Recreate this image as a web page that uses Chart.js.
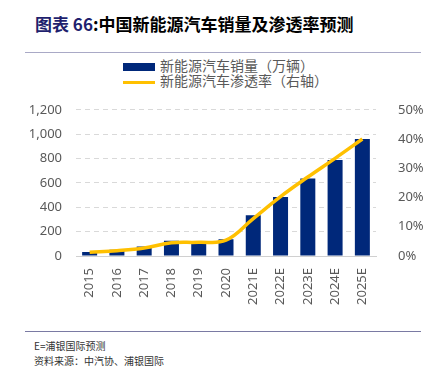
<!DOCTYPE html>
<html>
<head>
<meta charset="utf-8">
<script src="https://cdn.jsdelivr.net/npm/chart.js@4"></script>
<style>
  body { margin: 0; width: 433px; height: 366px; background: #fff; position: relative; overflow: hidden;
         font-family: "Noto Sans CJK SC", "Noto Sans", sans-serif; }
  #title { position: absolute; left: 35px; top: 11px; font-size: 17px; font-weight: bold; color: #000; white-space: nowrap; }
  #title .num { color: #1F1F6E; }
  .rule { position: absolute; left: 25px; width: 396px; height: 1px; }
  #legend { position: absolute; left: 123px; top: 58px; font-size: 14px; color: #595959; line-height: 15px; }
  #legend div { white-space: nowrap; }
  .sw { display: inline-block; width: 32px; vertical-align: middle; margin-right: 5px; }
  #wrap { position: absolute; left: 0; top: 88px; width: 433px; height: 218px; }
  .note { position: absolute; left: 34px; font-size: 10px; color: #333; white-space: nowrap; }
</style>
</head>
<body>
<div id="title"><span class="num">图表 66</span>:中国新能源汽车销量及渗透率预测</div>
<div class="rule" style="top:52px;background:#A9A9C6;"></div>
<div id="legend">
  <div><span class="sw" style="height:8px;background:#00287A;"></span>新能源汽车销量（万辆）</div>
  <div><span class="sw" style="height:3px;background:#FFC000;"></span>新能源汽车渗透率（右轴）</div>
</div>
<div id="wrap"><canvas id="c"></canvas></div>
<div class="rule" style="top:331px;background:#7A7AA3;"></div>
<div class="note" style="top:338px;">E=浦银国际预测</div>
<div class="note" style="top:353px;">资料来源：中汽协、浦银国际</div>
<script>
// categories and series
const years = ['2015', '2016', '2017', '2018', '2019', '2020', '2021E', '2022E', '2023E', '2024E', '2025E'];
const sales = [33, 51, 78, 126, 121, 137, 335, 484, 637, 788, 960];          // 万辆
const penetration = [1.3, 1.8, 2.7, 4.5, 4.7, 5.4, 12.8, 20.3, 27.0, 33.4, 40.0]; // %

const tickFont = { family: 'Noto Sans', size: 13 };
const tickColor = '#595959';

new Chart(document.getElementById('c'), {
  data: {
    labels: years,
    datasets: [
      {
        type: 'line', label: '新能源汽车渗透率（右轴）', data: penetration, yAxisID: 'y1',
        borderColor: '#FFC000', borderWidth: 3.5, pointRadius: 0, tension: 0.4, order: 0
      },
      {
        type: 'bar', label: '新能源汽车销量（万辆）', data: sales, yAxisID: 'y',
        backgroundColor: '#00287A', barPercentage: 0.55, categoryPercentage: 1, order: 1
      }
    ]
  },
  options: {
    responsive: true, maintainAspectRatio: false, animation: false,
    layout: { padding: { top: 10, left: 0, right: 0, bottom: 0 } },
    plugins: { legend: { display: false }, tooltip: { enabled: false } },
    scales: {
      x: {
        grid: { display: false },
        border: { color: '#D0D0D0' },
        ticks: { font: tickFont, color: tickColor, minRotation: 90, maxRotation: 90, padding: 4 },
        afterFit: s => { s.height = 50; }
      },
      y: {
        position: 'left', min: 0, max: 1200,
        ticks: { stepSize: 200, font: tickFont, color: tickColor, padding: 14,
                 callback: v => v.toLocaleString('en-US') },
        grid: { color: '#D9D9D9', tickLength: 0 },
        border: { display: true, color: 'rgba(0,0,0,0)', width: 0, dash: [5, 4] },
        afterFit: s => { s.width = 76; }
      },
      y1: {
        position: 'right', min: 0, max: 50,
        ticks: { stepSize: 10, font: tickFont, color: tickColor, padding: 14, callback: v => v + '%' },
        grid: { display: false },
        border: { display: false },
        afterFit: s => { s.width = 57; }
      }
    }
  }
});
</script>
</body>
</html>
